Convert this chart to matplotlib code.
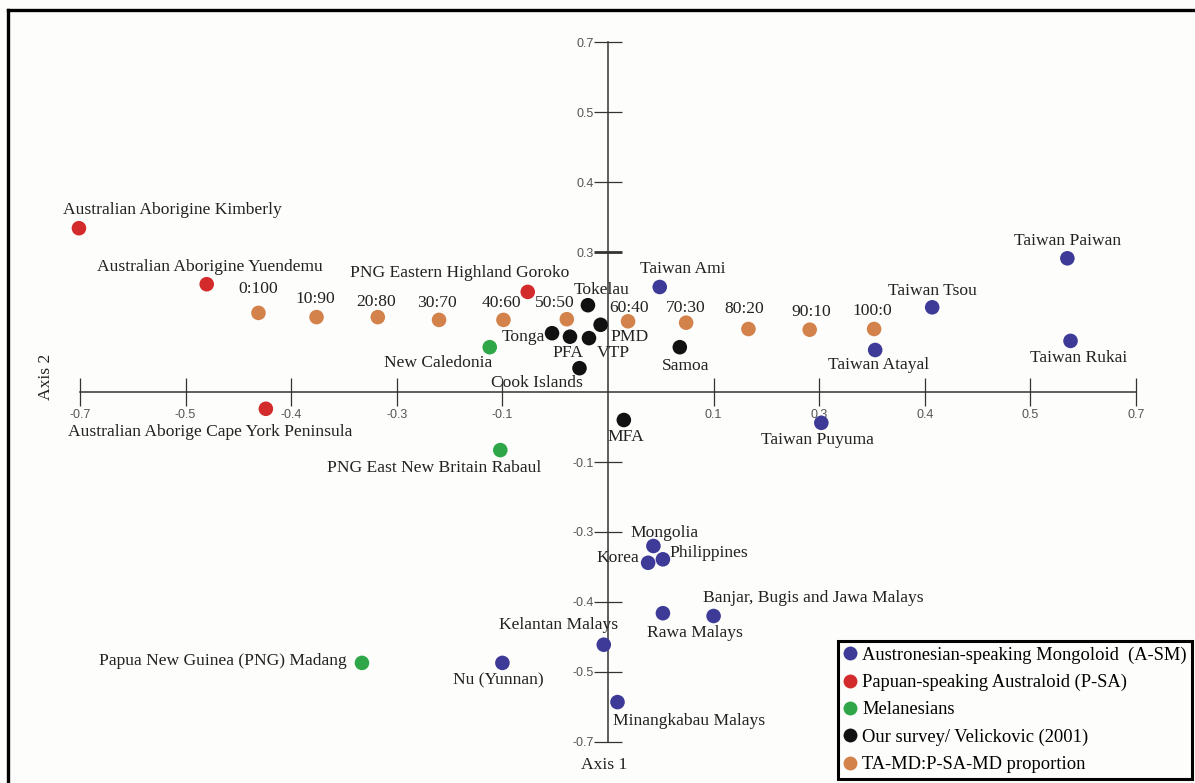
import matplotlib.pyplot as plt
from matplotlib.lines import Line2D

plt.rcParams['font.family'] = ['Liberation Serif', 'DejaVu Serif']

# ---- data (axis units, one tick = 0.1) ----
asm_names = ["Taiwan Ami", "Taiwan Paiwan", "Taiwan Tsou", "Taiwan Rukai", "Taiwan Atayal",
             "Taiwan Puyuma", "Mongolia", "Korea", "Philippines", "Rawa Malays",
             "Banjar, Bugis and Jawa Malays", "Kelantan Malays", "Nu (Yunnan)", "Minangkabau Malays"]
asm_x = [0.049, 0.435, 0.307, 0.438, 0.253, 0.202, 0.043, 0.038, 0.052, 0.052, 0.100, -0.004, -0.100, 0.009]
asm_y = [0.150, 0.191, 0.121, 0.073, 0.060, -0.044, -0.220, -0.244, -0.239, -0.316, -0.320, -0.361, -0.387, -0.443]

psa_names = ["Australian Aborigine Kimberly", "Australian Aborigine Yuendemu",
             "PNG Eastern Highland Goroko", "Australian Aborige Cape York Peninsula"]
psa_x = [-0.501, -0.380, -0.076, -0.324]
psa_y = [0.234, 0.154, 0.143, -0.024]

mel_names = ["New Caledonia", "PNG East New Britain Rabaul", "Papua New Guinea (PNG) Madang"]
mel_x = [-0.112, -0.102, -0.233]
mel_y = [0.064, -0.083, -0.387]

our_names = ["Tokelau", "Tonga", "PFA", "VTP", "PMD", "Cook Islands", "Samoa", "MFA"]
our_x = [-0.019, -0.053, -0.036, -0.018, -0.007, -0.027, 0.068, 0.015]
our_y = [0.124, 0.084, 0.079, 0.077, 0.096, 0.034, 0.064, -0.040]

prop_names = ["0:100", "10:90", "20:80", "30:70", "40:60", "50:50",
              "60:40", "70:30", "80:20", "90:10", "100:0"]
prop_x = [-0.331, -0.276, -0.218, -0.160, -0.099, -0.039, 0.019, 0.074, 0.133, 0.191, 0.252]
prop_y = [0.113, 0.107, 0.107, 0.103, 0.103, 0.104, 0.101, 0.099, 0.090, 0.089, 0.090]

legend_labels = ["Austronesian-speaking Mongoloid  (A-SM)", "Papuan-speaking Australoid (P-SA)",
                 "Melanesians", "Our survey/ Velickovic (2001)", "TA-MD:P-SA-MD proportion"]

x_ticks = [-0.5, -0.4, -0.3, -0.2, -0.1, 0.1, 0.2, 0.3, 0.4, 0.5]
x_tick_labels = ["-0.7", "-0.5", "-0.4", "-0.3", "-0.1", "0.1", "0.3", "0.4", "0.5", "0.7"]
y_ticks = [-0.5, -0.4, -0.3, -0.2, -0.1, 0.2, 0.3, 0.4, 0.5]
y_tick_labels = ["-0.7", "-0.5", "-0.4", "-0.3", "-0.1", "0.3", "0.4", "0.5", "0.7"]

# ---- styles ----
colors = ["#3d3a98", "#d32a2c", "#2fa748", "#111111", "#d3824c"]

# label offsets in pixels (dx, dy, ha)
offsets = {
    "Taiwan Ami": (23, 18, "center"), "Taiwan Paiwan": (0, 17, "center"),
    "Taiwan Tsou": (0, 16, "center"), "Taiwan Rukai": (8, -17, "center"),
    "Taiwan Atayal": (3, -15, "center"), "Taiwan Puyuma": (-4, -17, "center"),
    "Mongolia": (-23, 13, "left"), "Korea": (-9, 5, "right"), "Philippines": (7, 6, "left"),
    "Rawa Malays": (-16, -20, "left"), "Banjar, Bugis and Jawa Malays": (-11, 18, "left"),
    "Kelantan Malays": (14, 20, "right"), "Nu (Yunnan)": (-4, -17, "center"),
    "Minangkabau Malays": (-5, -19, "left"),
    "Australian Aborigine Kimberly": (-16, 18, "left"),
    "Australian Aborigine Yuendemu": (-110, 17, "left"),
    "PNG Eastern Highland Goroko": (-178, 19, "left"),
    "Australian Aborige Cape York Peninsula": (-198, -23, "left"),
    "New Caledonia": (-106, -16, "left"), "PNG East New Britain Rabaul": (-173, -18, "left"),
    "Papua New Guinea (PNG) Madang": (-15, 2, "right"),
    "Tokelau": (14, 15, "center"), "Tonga": (-7, -4, "right"), "PFA": (-2, -16, "center"),
    "VTP": (24, -15, "center"), "PMD": (10, -12, "left"), "Cook Islands": (-43, -15, "center"),
    "Samoa": (6, -19, "center"), "MFA": (2, -17, "center"),
    "0:100": (0, 24, "center"), "10:90": (-1, 18, "center"), "20:80": (-2, 15, "center"),
    "30:70": (-2, 17, "center"), "40:60": (-2, 17, "center"), "50:50": (-12, 16, "center"),
    "60:40": (1, 13, "center"), "70:30": (0, 15, "center"), "80:20": (-4, 20, "center"),
    "90:10": (2, 18, "center"), "100:0": (-2, 18, "center"),
}

W, H = 1195, 783
fig = plt.figure(figsize=(W / 100, H / 100), dpi=100, facecolor="#fdfdfb")
ax = fig.add_axes([0, 0, 1, 1])
ax.set_facecolor("#fdfdfb")
ax.set_xlim(-608 / 1056, (W - 608) / 1056)
ax.set_ylim((392 - H) / 700, 392 / 700)

groups = [(asm_names, asm_x, asm_y), (psa_names, psa_x, psa_y), (mel_names, mel_x, mel_y),
          (our_names, our_x, our_y), (prop_names, prop_x, prop_y)]
for (names, xs, ys), c in zip(groups, colors):
    ax.scatter(xs, ys, s=110, color=c, edgecolors="none", zorder=3)
    for n, x, y in zip(names, xs, ys):
        dx, dy, ha = offsets[n]
        ax.annotate(n, (x, y), xytext=(dx, dy), textcoords="offset pixels",
                    ha=ha, va="center", fontsize=12.6, color="#222222", zorder=4)

# axes crossing at the origin
for s in ["top", "right"]:
    ax.spines[s].set_visible(False)
for s in ["left", "bottom"]:
    ax.spines[s].set_position(("data", 0))
    ax.spines[s].set_color("#333333")
    ax.spines[s].set_linewidth(1.1)
    ax.spines[s].set_bounds(-0.5, 0.5)
ax.set_xticks(x_ticks, x_tick_labels)
ax.set_yticks(y_ticks, y_tick_labels)
ax.tick_params(direction="inout", length=20, width=0.9, color="#333333",
               labelsize=9, labelcolor="#555555", labelfontfamily="Liberation Sans")
ax.tick_params(axis="x", pad=2)
ax.tick_params(axis="y", pad=0.5)
ax.yaxis.get_major_ticks()[5].tick1line.set_markeredgewidth(2)

fig.text(604 / W, 1 - 765 / H, "Axis 1", ha="center", va="center", fontsize=12.6, color="#222222")
fig.text(46 / W, 1 - 377 / H, "Axis 2", ha="center", va="center", rotation=90,
         fontsize=12.6, color="#222222")

handles = [Line2D([], [], marker="o", ls="none", markersize=10, color=c, markeredgewidth=0)
           for c in colors]
leg = ax.legend(handles, legend_labels, loc="upper left", bbox_to_anchor=(838 / W, 1 - 641 / H),
                bbox_transform=fig.transFigure, borderaxespad=0, fancybox=False,
                edgecolor="black", framealpha=1, facecolor="#fdfdfb", prop={"size": 13.3},
                handlelength=0.7, handletextpad=0.3, labelspacing=0.55, borderpad=0.3)
leg.get_frame().set_linewidth(2.2)

# outer frame
fig.add_artist(Line2D([7.5 / W, 7.5 / W], [0, 1 - 9.5 / H], transform=fig.transFigure,
                      color="black", lw=2.4))
fig.add_artist(Line2D([7.5 / W, 1], [1 - 9.5 / H, 1 - 9.5 / H], transform=fig.transFigure,
                      color="black", lw=2.4))

fig.savefig("out.png", dpi=100, facecolor=fig.get_facecolor())
